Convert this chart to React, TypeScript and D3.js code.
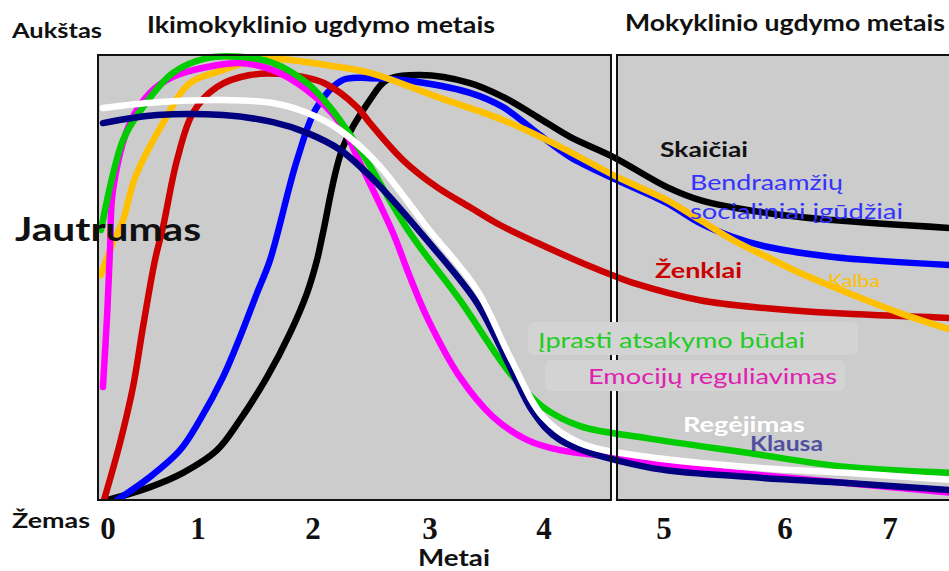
import React from "react";
import * as d3 from "d3";

// years on the x axis (the original axis is not evenly spaced)
const years = [0, 1, 2, 3, 4, 5, 6, 7];
const yearPx = [108, 198, 313, 430, 544, 664, 785, 890];

// [metai, jautrumas 0-100]
const skaiciai = [
  [0, 0], [0.467, 2.9], [0.833, 6.1], [1.165, 11.2], [1.365, 18], [1.6, 27.6], [1.8, 37.5],
  [1.948, 46.5], [2.034, 53.9], [2.085, 60], [2.256, 79.3], [2.487, 89.9], [2.632, 94.4],
  [2.915, 95.5], [3.351, 93.7], [3.64, 90.6], [3.939, 86.1], [4.217, 81.6], [4.575, 77.1],
  [5.025, 70.3], [5.298, 67.4], [5.851, 64.5], [6.457, 62.9], [7.59, 61.1],
];
const socialiniai = [
  [0.1, 0], [0.467, 5.2], [0.8, 11.2], [1.017, 18], [1.217, 27.6], [1.365, 36.6], [1.513, 46.5],
  [1.626, 53.9], [1.861, 76.4], [2.034, 88.3], [2.256, 94.4], [2.487, 94.8], [2.769, 94.4],
  [3.351, 91.5], [3.64, 88.3], [3.939, 82.5], [4.217, 77.1], [4.608, 71.9], [5.025, 66.7],
  [5.298, 62.2], [5.57, 59.1], [5.851, 56.9], [6.457, 54.6], [7.59, 52.8],
];
const zenklai = [
  [-0.044, 0], [0.133, 12.8], [0.278, 25.4], [0.389, 38.9], [0.522, 53.9], [0.611, 61.3],
  [0.767, 76.4], [0.944, 87], [1.165, 92.8], [1.452, 95.5], [1.8, 95.5], [2.094, 93.7],
  [2.376, 88.3], [2.487, 84.7], [2.769, 76.4], [3.061, 70.3], [3.351, 65.8], [3.614, 61.8],
  [3.939, 57.8], [4.358, 52.8], [4.608, 50.1], [4.742, 48.8], [5.298, 44.9], [5.851, 43.1],
  [6.457, 42], [7.59, 40.9],
];
const kalba = [
  [-0.078, 50.6], [0.044, 57.3], [0.167, 62.9], [0.3, 72.4], [0.611, 84.7], [0.911, 93.7],
  [1.217, 96.6], [1.513, 98.9], [1.8, 98.9], [2.094, 97.8], [2.487, 96], [3.061, 90.6],
  [3.64, 85.4], [4.075, 80.2], [4.608, 72.6], [5.025, 67.4], [5.298, 62.9], [5.57, 58.4],
  [5.851, 54.6], [6.143, 51], [6.457, 47.9], [7.095, 42], [7.59, 38.2],
];
const atsakymas = [
  [-0.078, 60.7], [0.167, 80.9], [0.389, 88.3], [0.722, 96], [1.078, 99.3], [1.365, 99.6],
  [1.652, 98.2], [1.948, 93.7], [2.145, 88.3], [2.402, 78.7], [2.829, 60], [3.263, 44.9],
  [3.702, 28.5], [3.991, 20.9], [4.3, 16.6], [4.858, 13.9], [5.686, 10.6], [6.59, 7.4], [7.59, 6.1],
];
const emocijos = [
  [-0.056, 25.4], [-0.011, 41.1], [0.022, 56.2], [0.056, 69.7], [0.244, 84.7], [0.467, 91.5],
  [0.722, 95.1], [1.078, 97.3], [1.365, 98.2], [1.652, 96.6], [1.948, 92.1], [2.231, 84.7],
  [2.402, 75.7], [2.684, 60], [2.829, 50.1], [2.974, 41.1], [3.263, 27.6], [3.553, 18.7],
  [3.851, 13.5], [4.133, 11.2], [4.575, 9.7], [5.405, 6.7], [6.267, 4.5], [7.59, 1.6],
];
const regejimas = [
  [-0.056, 88.1], [0.544, 89.4], [1.217, 89.9], [1.652, 89.2], [1.948, 87], [2.231, 83.1],
  [2.547, 75.7], [2.974, 61.3], [3.412, 47.2], [3.702, 32.1], [3.991, 18.7], [4.3, 12.8],
  [4.858, 9.7], [5.686, 7.4], [6.59, 6.1], [7.59, 4.5],
];
const klausa = [
  [-0.056, 84.7], [0.544, 86.5], [1.217, 86.5], [1.652, 84.9], [1.948, 82.5], [2.231, 78.7],
  [2.547, 71.2], [2.974, 58.4], [3.412, 44.3], [3.702, 29.9], [3.904, 19.8], [4.133, 13.5],
  [4.858, 7.4], [5.686, 5.2], [6.59, 3.8], [7.59, 2.2],
];

// drawing order: later ones lie on top
const lines = [
  { key: "skaiciai", pts: skaiciai, color: "#000000" },
  { key: "socialiniai", pts: socialiniai, color: "#0000ff" },
  { key: "zenklai", pts: zenklai, color: "#cc0000" },
  { key: "kalba", pts: kalba, color: "#ffc000" },
  { key: "emocijos", pts: emocijos, color: "#ff00ff" },
  { key: "atsakymas", pts: atsakymas, color: "#00cc00" },
  { key: "klausa", pts: klausa, color: "#000080" },
  { key: "regejimas", pts: regejimas, color: "#ffffff" },
];

const W = 949;
const H = 571;
const TOP = 55;
const BOTTOM = 500;
const FONT = "Lato, 'Open Sans', sans-serif";

export default function App() {
  const x = d3.scaleLinear().domain(years).range(yearPx);
  const y = d3.scaleLinear().domain([0, 100]).range([BOTTOM, TOP]);
  const line = d3
    .line<number[]>()
    .x((d) => x(d[0]))
    .y((d) => y(d[1]))
    .curve(d3.curveCatmullRom.alpha(0.5));

  const leftPanel = { x0: 98, x1: 611 };
  const rightPanel = { x0: 617, x1: 952 };

  return (
    <svg
      width={W}
      height={H}
      style={{ position: "absolute", left: 0, top: 0, background: "#fff" }}
    >
      <defs>
        <clipPath id="plot">
          <rect x={leftPanel.x0} y={TOP - 8} width={rightPanel.x1 - leftPanel.x0} height={BOTTOM - TOP + 9} />
        </clipPath>
      </defs>

      {/* panels */}
      {[leftPanel, rightPanel].map((p, i) => (
        <rect key={"bg" + i} x={p.x0} y={TOP} width={p.x1 - p.x0} height={BOTTOM - TOP} fill="#cccccc" />
      ))}

      <g clipPath="url(#plot)" fill="none" strokeLinecap="round" strokeLinejoin="round">
        {lines.map((s) => (
          <path key={s.key} d={line(s.pts) || ""} stroke={s.color} strokeWidth={6.5} />
        ))}
      </g>

      {[leftPanel, rightPanel].map((p, i) => (
        <rect
          key={"br" + i}
          x={p.x0}
          y={TOP}
          width={p.x1 - p.x0}
          height={BOTTOM - TOP}
          fill="none"
          stroke="#111"
          strokeWidth={2}
        />
      ))}

      {/* label backdrops */}
      <rect x={528} y={322} width={330} height={33} rx={6} fill="#d3d3d3" />
      <rect x={545} y={360} width={300} height={31} rx={6} fill="#d3d3d3" />

      {/* titles */}
      <g fontFamily={FONT} fontWeight="bold" fill="#111">
        <text x={12} y={38} fontSize={20} textLength={90} lengthAdjust="spacingAndGlyphs">Aukštas</text>
        <text x={147} y={33} fontSize={22} textLength={348} lengthAdjust="spacingAndGlyphs">
          Ikimokyklinio ugdymo metais
        </text>
        <text x={625} y={31} fontSize={22} textLength={320} lengthAdjust="spacingAndGlyphs">
          Mokyklinio ugdymo metais
        </text>
        <text x={15} y={241} fontSize={33} textLength={186} lengthAdjust="spacingAndGlyphs">Jautrumas</text>
        <text x={12} y={528} fontSize={20} textLength={78} lengthAdjust="spacingAndGlyphs">Žemas</text>
        <text x={418} y={566} fontSize={22} textLength={72} lengthAdjust="spacingAndGlyphs">Metai</text>
      </g>

      {/* x ticks */}
      <g fontFamily="'Liberation Serif', serif" fontWeight="bold" fontSize={31} fill="#111" textAnchor="middle">
        {years.map((t) => (
          <text key={t} x={x(t)} y={539}>
            {t}
          </text>
        ))}
      </g>

      {/* series labels */}
      <g fontFamily={FONT} fontSize={21}>
        <text x={660} y={157} fontWeight="bold" fill="#111" fontSize={20} textLength={88} lengthAdjust="spacingAndGlyphs">Skaičiai</text>
        <text x={690} y={190} fill="#3333ff" textLength={153} lengthAdjust="spacingAndGlyphs">Bendraamžių</text>
        <text x={690} y={219} fill="#3333ff" textLength={213} lengthAdjust="spacingAndGlyphs">socialiniai įgūdžiai</text>
        <text x={655} y={278} fill="#cc0000" fontWeight="bold" textLength={87} lengthAdjust="spacingAndGlyphs">Ženklai</text>
        <text x={828} y={287} fill="#ffc000" fontSize={18} textLength={52} lengthAdjust="spacingAndGlyphs">Kalba</text>
        <text x={538} y={348} fill="#22cc22" textLength={267} lengthAdjust="spacingAndGlyphs">Įprasti atsakymo būdai</text>
        <text x={588} y={384} fill="#e020b0" textLength={249} lengthAdjust="spacingAndGlyphs">Emocijų reguliavimas</text>
        <text x={683} y={432} fill="#ffffff" fontWeight="bold" fontSize={20} textLength={122} lengthAdjust="spacingAndGlyphs">Regėjimas</text>
        <text x={750} y={451} fill="#5050a0" fontWeight="bold" fontSize={20} textLength={73} lengthAdjust="spacingAndGlyphs">Klausa</text>
      </g>
    </svg>
  );
}
